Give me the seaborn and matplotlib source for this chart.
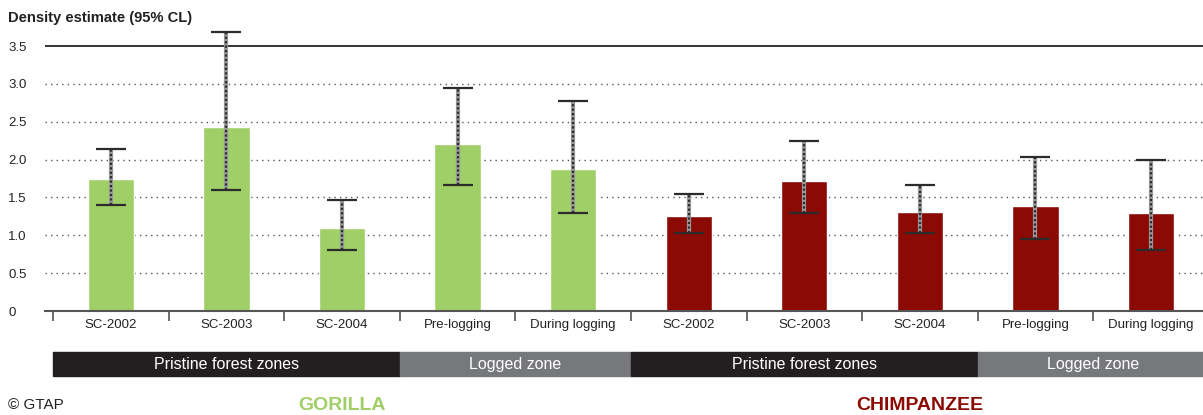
#!/usr/bin/env python3
"""Great ape density estimates (95% CL) by zone: gorilla vs chimpanzee."""
import matplotlib as mpl
import matplotlib.pyplot as plt
import matplotlib.transforms as mtransforms
import pandas as pd
import seaborn as sns

# --- data -----------------------------------------------------------------
species = ["Gorilla"] * 5 + ["Chimpanzee"] * 5
categories = ["SC-2002", "SC-2003", "SC-2004", "Pre-logging", "During logging"] * 2
density = [1.74, 2.43, 1.10, 2.21, 1.88, 1.25, 1.72, 1.31, 1.39, 1.29]
ci_low = [1.40, 1.60, 0.81, 1.66, 1.29, 1.03, 1.30, 1.03, 0.95, 0.81]
ci_high = [2.14, 3.69, 1.47, 2.95, 2.77, 1.55, 2.25, 1.67, 2.04, 1.99]
zones = ["Pristine forest zones", "Logged zone", "Pristine forest zones", "Logged zone"]
zone_spans = [(0, 3), (3, 5), (5, 8), (8, 10)]
y_ticks = [0, 0.5, 1.0, 1.5, 2.0, 2.5, 3.0, 3.5]
y_tick_labels = ["0", "0.5", "1.0", "1.5", "2.0", "2.5", "3.0", "3.5"]

GREEN = "#a0cf67"
RED = "#8b0a03"
ZONE_COLORS = ["#231f20", "#77787b", "#231f20", "#77787b"]


def main():
    sns.set_theme(style="white")
    plt.rcParams["font.family"] = ["Liberation Sans", "DejaVu Sans"]

    df = pd.DataFrame(
        {
            "key": [f"{s}-{c}" for s, c in zip(species, categories)],
            "species": species,
            "density": density,
        }
    )

    fig = plt.figure(figsize=(12.03, 4.15), dpi=100)
    W, H = 1203, 415
    y0_px, per_unit = 311, 75.7
    top_val = 3.75
    ax = fig.add_axes([45 / W, 1 - y0_px / H, 1 - 45 / W, top_val * per_unit / H])

    sns.barplot(
        data=df, x="key", y="density", hue="species",
        palette={"Gorilla": GREEN, "Chimpanzee": RED},
        width=0.4, dodge=False, saturation=1, legend=False, ax=ax,
    )

    # confidence intervals: grey underlay + dotted black line + solid caps
    xs = list(range(len(density)))
    lo = [d - l for d, l in zip(density, ci_low)]
    hi = [h - d for d, h in zip(density, ci_high)]
    ax.errorbar(xs, density, yerr=[lo, hi], fmt="none", ecolor="#9a9a9a",
                elinewidth=3, capsize=0, zorder=4, clip_on=False)
    eb = ax.errorbar(xs, density, yerr=[lo, hi], fmt="none", ecolor="#2b2b2b",
                     elinewidth=1.6, capsize=11, capthick=1.6, zorder=5, clip_on=False)
    for col in eb[2]:
        col.set_linestyle((0, (1, 1)))

    ax.set_xlim(-0.57, 9.45)
    ax.set_ylim(0, top_val)

    # grid
    for v in y_ticks[1:-1]:
        ax.axhline(v, color="#555555", lw=1.0, ls=(0, (1, 3)), zorder=0)
    ax.axhline(3.5, color="#111111", lw=1.2, zorder=0)

    for s in ["top", "right", "left"]:
        ax.spines[s].set_visible(False)
    ax.spines["bottom"].set_color("#555555")
    ax.spines["bottom"].set_linewidth(1.5)

    ax.set_yticks(y_ticks)
    ax.set_yticklabels(y_tick_labels)
    ax.tick_params(axis="y", length=0, pad=26.6, labelsize=9.5, labelcolor="#222222")
    for lab in ax.get_yticklabels():
        lab.set_horizontalalignment("left")

    ax.set_xticks(xs)
    ax.set_xticklabels(categories)
    ax.set_xticks([i - 0.5 for i in range(len(density))], minor=True)
    ax.tick_params(axis="x", which="major", length=0, pad=6, labelsize=9.5,
                   labelcolor="#222222")
    ax.tick_params(axis="x", which="minor", length=7, width=1.2, color="#555555",
                   direction="out", bottom=True)
    ax.set_xlabel("")
    ax.set_ylabel("")

    fig.text(8 / W, 1 - 18 / H, "Density estimate (95% CL)", fontsize=10.6,
             fontweight="bold", color="#222222", va="center", ha="left")

    # zone bands under the axis
    trans = mtransforms.blended_transform_factory(ax.transData, fig.transFigure)
    band_y0 = 1 - 376 / H
    band_h = 24 / H
    for (a, b), name, col in zip(zone_spans, zones, ZONE_COLORS):
        ax.add_patch(mpl.patches.Rectangle((a - 0.5, band_y0), b - a, band_h,
                                           transform=trans, color=col, clip_on=False))
        ax.text((a + b - 1) / 2, band_y0 + band_h / 2, name, transform=trans,
                ha="center", va="center", color="white", fontsize=11.5)

    ax.text(2, 1 - 405 / H, "GORILLA", transform=trans, ha="center", va="center",
            color=GREEN, fontsize=14, fontweight="bold")
    ax.text(7, 1 - 405 / H, "CHIMPANZEE", transform=trans, ha="center", va="center",
            color=RED, fontsize=14, fontweight="bold")
    fig.text(8 / W, 1 - 405 / H, "© GTAP", fontsize=11, color="#222222",
             ha="left", va="center")

    fig.savefig("out.png", dpi=100)


if __name__ == "__main__":
    main()
